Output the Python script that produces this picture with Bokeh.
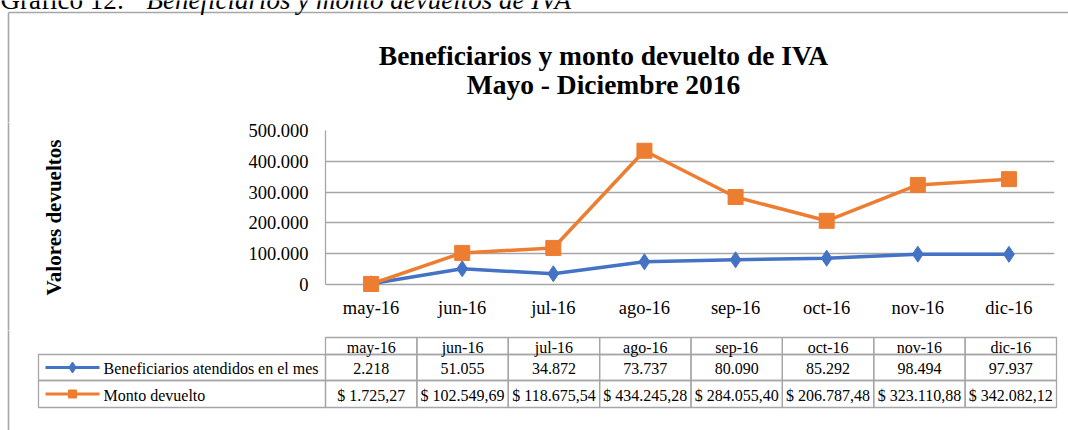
import math
from bokeh.plotting import figure
from bokeh.layouts import column, row
from bokeh.models import (FactorRange, Range1d, FixedTicker, CustomJSTickFormatter)
from bokeh.embed import file_html
from bokeh.resources import INLINE
from bokeh.core.properties import value

# ---------------- data ----------------
categories = ["may-16", "jun-16", "jul-16", "ago-16", "sep-16", "oct-16", "nov-16", "dic-16"]
beneficiarios = [2218, 51055, 34872, 73737, 80090, 85292, 98494, 97937]
monto = [1725.27, 102549.69, 118675.54, 434245.28, 284055.40, 206787.48, 323110.88, 342082.12]
series_names = ["Beneficiarios atendidos en el mes", "Monto devuelto"]
y_ticks = [0, 100000, 200000, 300000, 400000, 500000]
title_lines = ["Beneficiarios y monto devuelto de IVA", "Mayo - Diciembre 2016"]
y_label = "Valores devueltos"
caption_prefix = "Gráfico 12:"
caption_text = "Beneficiarios y monto devueltos de IVA"


def fmt_int(v):
    return f"{int(round(v)):,}".replace(",", ".")


def fmt_money(v):
    s = f"{v:,.2f}".replace(",", "X").replace(".", ",").replace("X", ".")
    return "$ " + s


# ---------------- styles / layout ----------------
SERIF = "Liberation Serif"
GRAY = "#a6a6a6"
BLUE = "#4472c4"
ORANGE = "#ed7d31"
W, H = 1068, 430

# chart frame (page pixels)
F_LEFT, F_RIGHT, F_TOP, F_ZERO = 325, 1054, 130, 284
EXT = 10                      # extra frame below zero so markers at zero are not clipped
TOP_H = 122                   # header figure height
MID_H = 208                   # chart row height
BOT_H = H - TOP_H - MID_H     # table figure height
LEFT_W = 240                  # y-label strip width
COL_W = (F_RIGHT - F_LEFT) / len(categories)
BORDER_X, BORDER_Y = 8, 12


def px_fig(w, h, x0, x1, y0, y1):
    f = figure(width=w, height=h, x_range=Range1d(x0, x1), y_range=Range1d(y1, y0),
               output_backend="svg", toolbar_location=None,
               x_axis_location=None, y_axis_location=None, min_border=0,
               frame_align=False)
    f.grid.visible = False
    f.outline_line_color = None
    f.background_fill_color = "white"
    f.border_fill_color = "white"
    return f


# ---------------- header: caption, border, title ----------------
top = px_fig(W, TOP_H, 0, W, 0, TOP_H)
top.segment(x0=[BORDER_X, BORDER_X], y0=[BORDER_Y, BORDER_Y], x1=[W + 5, BORDER_X],
            y1=[BORDER_Y, TOP_H + 5], line_color=GRAY, line_width=1.6)
top.text(x=[0], y=[-1], text=[caption_prefix], text_font=value(SERIF),
         text_font_size=value("27px"), text_color="black",
         text_align="left", text_baseline="middle")
top.text(x=[146], y=[-1], text=[caption_text], text_font=value(SERIF),
         text_font_size=value("27px"), text_font_style="italic", text_color="black",
         text_align="left", text_baseline="middle")
top.text(x=[603, 603], y=[55, 84], text=title_lines, text_font=value(SERIF),
         text_font_size=value("27.5px"), text_font_style="bold", text_color="black",
         text_align="center", text_baseline="middle")

# ---------------- left strip: border and y-axis title ----------------
left = px_fig(LEFT_W, MID_H, 0, LEFT_W, TOP_H, TOP_H + MID_H)
left.segment(x0=[BORDER_X], y0=[TOP_H - 5], x1=[BORDER_X], y1=[TOP_H + MID_H + 5],
             line_color=GRAY, line_width=1.6)
left.text(x=[53], y=[217], text=[y_label], angle=math.pi / 2, text_font=value(SERIF),
          text_font_size=value("21px"), text_font_style="bold", text_color="black",
          text_align="center", text_baseline="middle")

# ---------------- chart ----------------
y_max = y_ticks[-1]
chart_w = W - LEFT_W
p = figure(width=chart_w, height=MID_H,
           x_range=FactorRange(factors=categories, range_padding=0, factor_padding=0),
           y_range=Range1d(-y_max * EXT / (F_ZERO - F_TOP), y_max),
           output_backend="svg", toolbar_location=None, frame_align=False,
           min_border_left=F_LEFT - LEFT_W, min_border_right=W - F_RIGHT,
           min_border_top=F_TOP - TOP_H,
           min_border_bottom=TOP_H + MID_H - F_ZERO - EXT)
p.outline_line_color = None
p.background_fill_color = "white"
p.border_fill_color = "white"

p.xgrid.grid_line_color = None
p.ygrid.grid_line_color = GRAY
p.ygrid.grid_line_width = 1.3
p.yaxis.ticker = FixedTicker(ticks=y_ticks)
p.yaxis.formatter = CustomJSTickFormatter(
    code='return Math.round(tick).toString().replace(/\\B(?=(\\d{3})+(?!\\d))/g, ".");')
p.yaxis.bounds = (0, y_max)
p.yaxis.axis_line_color = GRAY
p.yaxis.axis_line_width = 1.3
p.xaxis.axis_line_color = None
for ax in (p.xaxis, p.yaxis):
    ax.major_tick_line_color = None
    ax.minor_tick_line_color = None
    ax.major_tick_out = 0
    ax.major_tick_in = 0
    ax.major_label_text_font = SERIF
    ax.major_label_text_font_size = "18.5px"
    ax.major_label_text_color = "black"
p.yaxis.major_label_standoff = 17
p.xaxis.major_label_standoff = 3

p.line(x=categories, y=beneficiarios, line_color=BLUE, line_width=3.5)
p.scatter(x=categories, y=beneficiarios, marker="diamond", size=16,
          fill_color=BLUE, line_color=BLUE)
p.line(x=categories, y=monto, line_color=ORANGE, line_width=3.5)
p.scatter(x=categories, y=monto, marker="square", size=15, fill_color=ORANGE, line_color=ORANGE)

# ---------------- data table ----------------
T_LEFT, T_RIGHT = 325, 1056
T_COL = (T_RIGHT - T_LEFT) / len(categories)
y0 = TOP_H + MID_H
tab = figure(width=W, height=BOT_H,
             x_range=Range1d(-T_LEFT / T_COL, (W - T_LEFT) / T_COL),
             y_range=Range1d(H, y0),
             output_backend="svg", toolbar_location=None, frame_align=False,
             x_axis_location=None, y_axis_location=None, min_border=0)
tab.extra_x_ranges = {"px": Range1d(0, W)}
tab.grid.visible = False
tab.outline_line_color = None
tab.background_fill_color = "white"
tab.border_fill_color = "white"

row_bounds = [(337, 354), (354, 380), (380, 407)]
n = len(categories)
idx = list(range(n))
for (t, b) in row_bounds:
    tab.quad(left=idx, right=[i + 1 for i in idx], top=[t] * n, bottom=[b] * n,
             fill_alpha=0, line_color=GRAY, line_width=1.3)
for (t, b) in row_bounds[1:]:
    tab.quad(left=[38], right=[T_LEFT], top=[t], bottom=[b], x_range_name="px",
             fill_alpha=0, line_color=GRAY, line_width=1.3)

rows_text = [list(categories),
             [fmt_int(v) for v in beneficiarios],
             [fmt_money(v) for v in monto]]
for texts, (t, b) in zip(rows_text, row_bounds):
    tab.text(x=[i + 0.5 for i in idx], y=[(t + b) / 2 + 1] * n, text=texts,
             text_font=value(SERIF), text_font_size=value("16px"), text_color="black",
             text_align="center", text_baseline="middle")

for name, color, (t, b), marker, msize in zip(series_names, (BLUE, ORANGE), row_bounds[1:],
                                               ("diamond", "square"), (11, 8)):
    yc = (t + b) / 2
    tab.segment(x0=[45], y0=[yc], x1=[99], y1=[yc], x_range_name="px",
                line_color=color, line_width=3.2)
    tab.scatter(x=[72], y=[yc], marker=marker, size=msize, x_range_name="px",
                fill_color=color, line_color=color)
    tab.text(x=[103], y=[yc + 1], text=[name], x_range_name="px",
             text_font=value(SERIF), text_font_size=value("16px"), text_color="black",
             text_align="left", text_baseline="middle")

tab.segment(x0=[BORDER_X], y0=[y0 - 5], x1=[BORDER_X], y1=[H + 5], x_range_name="px",
            line_color=GRAY, line_width=1.6)

layout = column(top, row(left, p), tab)
open("out.html", "w").write(file_html(layout, INLINE))
